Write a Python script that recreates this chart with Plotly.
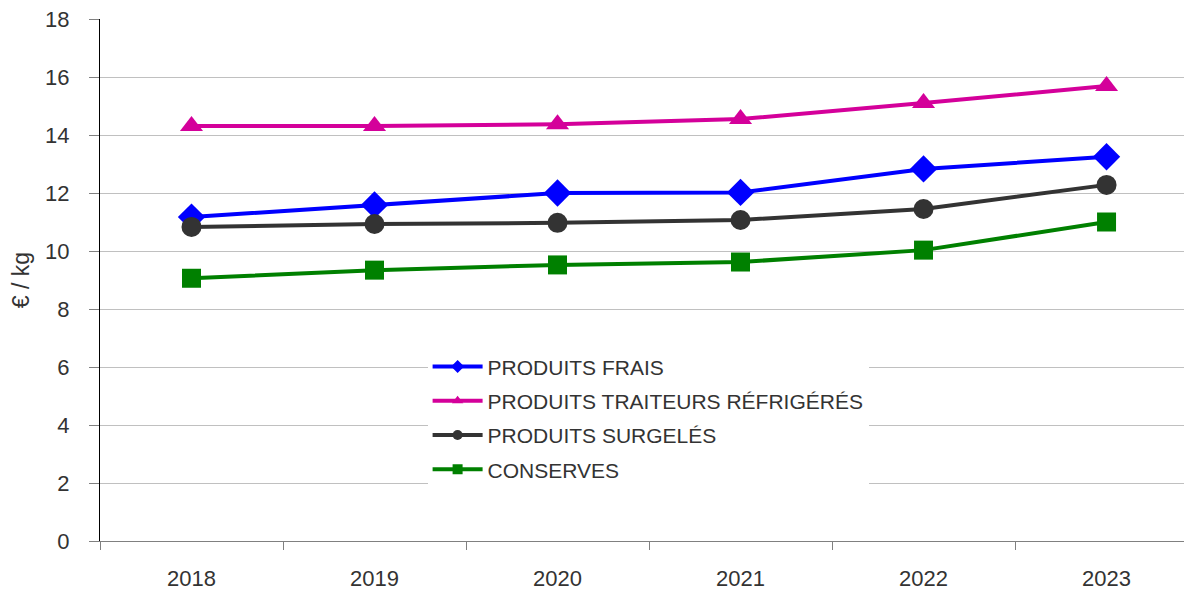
"""Prix moyen au kg par famille de produits, 2018-2023."""
import plotly.graph_objects as go

annees = ["2018", "2019", "2020", "2021", "2022", "2023"]

produits_frais = [11.17, 11.59, 12.0, 12.02, 12.83, 13.25]
produits_traiteurs = [14.31, 14.31, 14.37, 14.55, 15.1, 15.69]
produits_surgeles = [10.83, 10.93, 10.97, 11.07, 11.45, 12.28]
conserves = [9.06, 9.34, 9.52, 9.62, 10.03, 11.0]

FONT = "Liberation Sans, Arial, sans-serif"
TXT = "#333333"

series = [
    ("PRODUITS FRAIS", produits_frais, "#0000ff", "diamond", 21),
    ("PRODUITS TRAITEURS RÉFRIGÉRÉS", produits_traiteurs, "#d4009a", "triangle-up", 20),
    ("PRODUITS SURGELÉS", produits_surgeles, "#333333", "circle", 20),
    ("CONSERVES", conserves, "#008000", "square", 19),
]

fig = go.Figure()
for name, vals, color, symbol, size in series:
    fig.add_trace(go.Scatter(
        x=annees, y=vals, mode="lines+markers", name=name,
        line=dict(color=color, width=4),
        marker=dict(symbol=symbol, size=size, color=color),
        showlegend=False,
    ))
# entrées de légende avec des marqueurs plus petits
for name, vals, color, symbol, size in series:
    fig.add_trace(go.Scatter(
        x=[None], y=[None], mode="lines+markers", name=name,
        legendgroup=name,
        line=dict(color=color, width=4),
        marker=dict(symbol=symbol, size=10, color=color),
    ))

# la page a une marge de 8 px autour du graphique : on compense
fig.update_layout(
    width=1184, height=583,
    margin=dict(l=92, r=0, t=11, b=50, autoexpand=False),
    paper_bgcolor="white", plot_bgcolor="white",
    font=dict(family=FONT, color=TXT, size=21),
    legend=dict(
        x=0.3, y=0.373, xanchor="left", yanchor="top",
        bgcolor="white", font=dict(size=21, color=TXT),
        tracegroupgap=4, itemwidth=50,
    ),
)
fig.update_xaxes(
    type="category", range=[-0.5, 5.467],
    tickson="boundaries", ticks="outside", ticklen=8, tickcolor="#808080",
    showline=True, linecolor="#808080", linewidth=1,
    showgrid=False, ticklabelstandoff=18,
    tickfont=dict(size=22, color=TXT),
)
fig.update_yaxes(
    range=[0, 18], dtick=2,
    ticks="outside", ticklen=10, tickcolor="#808080",
    showline=True, linecolor="black", linewidth=1,
    showgrid=True, gridcolor="#c0c0c0", gridwidth=1, zeroline=False,
    tickfont=dict(size=22, color=TXT), ticklabelstandoff=15,
    ticklabeloverflow="allow",
    title=dict(text="€ / kg", font=dict(size=23, color=TXT), standoff=14),
)

fig.write_html("out.html")
